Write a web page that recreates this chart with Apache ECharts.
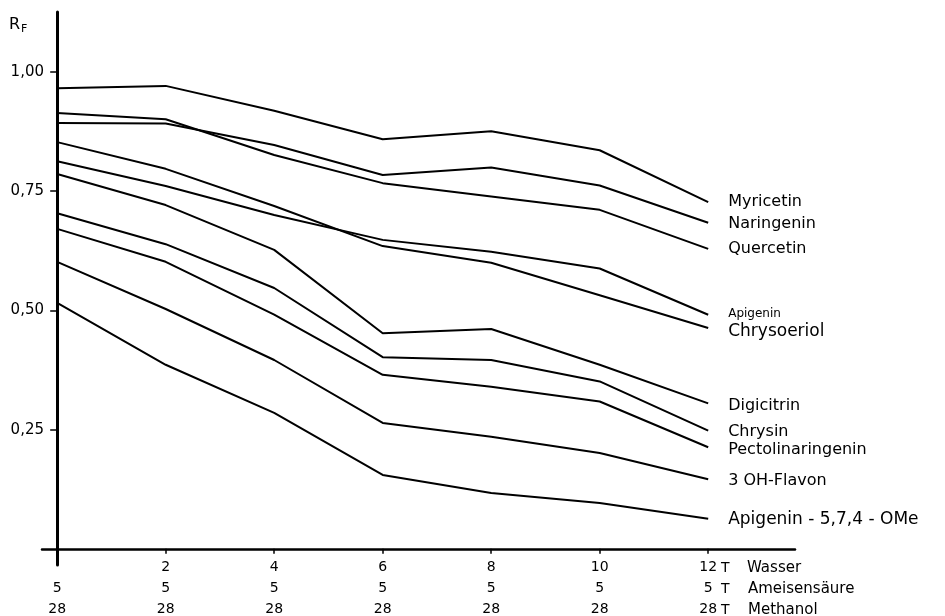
<!DOCTYPE html>
<html>
<head>
<meta charset="utf-8">
<script src="https://cdn.jsdelivr.net/npm/echarts@6/dist/echarts.min.js"></script>
<style>html,body{margin:0;padding:0;background:#fff}#c{width:945px;height:616px}</style>
</head>
<body>
<div id="c"></div>
<script>
// x positions (Wasser parts)
const xValues = [0, 2, 4, 6, 8, 10, 12];
const xTicks = [0, 2, 4, 6, 8, 10, 12];
const yTicks = [0.25, 0.5, 0.75, 1.0];
const row2Label = '5';
const row3Label = '28';
const axisTitles = ['Wasser', 'Ameisensäure', 'Methanol'];

const seriesNames = ['Myricetin', 'Naringenin', 'Quercetin', 'Apigenin', 'Chrysoeriol',
  'Digicitrin', 'Chrysin', 'Pectolinaringenin', '3 OH-Flavon', 'Apigenin - 5,7,4 - OMe'];

const myricetin        = [0.966, 0.971, 0.919, 0.859, 0.876, 0.836, 0.727];
const naringenin       = [0.893, 0.892, 0.847, 0.784, 0.800, 0.762, 0.684];
const quercetin        = [0.914, 0.901, 0.826, 0.767, 0.739, 0.711, 0.629];
const apigenin         = [0.813, 0.761, 0.700, 0.648, 0.623, 0.588, 0.491];
const chrysoeriol      = [0.853, 0.797, 0.719, 0.635, 0.600, 0.532, 0.463];
const digicitrin       = [0.786, 0.721, 0.627, 0.452, 0.461, 0.386, 0.305];
const chrysin          = [0.704, 0.639, 0.547, 0.402, 0.396, 0.351, 0.248];
const pectolinaringenin= [0.671, 0.602, 0.491, 0.365, 0.340, 0.309, 0.213];
const flavon3oh        = [0.602, 0.503, 0.396, 0.264, 0.235, 0.201, 0.146];
const apigeninOMe      = [0.516, 0.386, 0.285, 0.155, 0.117, 0.096, 0.063];

const allValues = [myricetin, naringenin, quercetin, apigenin, chrysoeriol,
  digicitrin, chrysin, pectolinaringenin, flavon3oh, apigeninOMe];

const FONT = 'DejaVu Sans';
const labelStyles = [
  {fs: 16, dy: 0, w: 'normal'}, {fs: 16, dy: 1, w: 'normal'}, {fs: 16, dy: 0, w: 'normal'},
  {fs: 12, dy: -1, w: 'normal'}, {fs: 17, dy: 4, w: 'normal'},
  {fs: 16, dy: 2, w: 'normal'}, {fs: 16, dy: 1, w: 'normal'}, {fs: 16, dy: 3, w: 'normal'},
  {fs: 16, dy: 2, w: 'normal'}, {fs: 17, dy: 1, w: 'normal'}
];

const chart = echarts.init(document.getElementById('c'), null, {renderer: 'canvas'});

const series = seriesNames.map((name, i) => ({
  name: name,
  type: 'line',
  data: xValues.map((x, j) => [x, allValues[i][j]]),
  showSymbol: false,
  symbol: 'none',
  lineStyle: {color: '#000', width: 2},
  itemStyle: {color: '#000'},
  endLabel: {
    show: true,
    formatter: '{a}',
    color: '#000',
    fontFamily: FONT,
    fontSize: labelStyles[i].fs,
    fontWeight: labelStyles[i].w,
    distance: 20,
    offset: [0, labelStyles[i].dy]
  },
  emphasis: {disabled: true}
}));

const option = {
  animation: false,
  backgroundColor: '#fff',
  title: {
    text: '{r|R}{f|F}',
    left: 9,
    top: 14,
    padding: 0,
    textStyle: {
      fontWeight: 'normal',
      rich: {
        r: {fontFamily: FONT, fontSize: 16, color: '#000', fontWeight: 'normal'},
        f: {fontFamily: FONT, fontSize: 11, color: '#000', fontWeight: 'normal', padding: [10, 0, 0, 1]}
      }
    }
  },
  grid: {left: 42, right: 150, top: 12, bottom: 51, containLabel: false, outerBoundsMode: 'none'},
  xAxis: {
    type: 'value',
    min: -0.28,
    max: 13.6,
    axisLine: {onZero: true, lineStyle: {color: '#000', width: 2.5}},
    axisTick: {show: true, customValues: xTicks, length: 5, lineStyle: {color: '#000', width: 1.5}},
    axisLabel: {
      customValues: xTicks,
      formatter: function (v) { return (v === 0 ? ' ' : String(v)) + '\n' + row2Label + '\n' + row3Label; },
      color: '#000',
      fontFamily: FONT,
      fontSize: 14,
      lineHeight: 21,
      margin: -8
    },
    splitLine: {show: false}
  },
  yAxis: {
    type: 'value',
    min: -0.034,
    max: 1.126,
    axisLine: {show: true, onZero: true, lineStyle: {color: '#000', width: 3}},
    axisTick: {show: true, customValues: yTicks, length: 7, lineStyle: {color: '#000', width: 1.5}},
    axisLabel: {
      customValues: yTicks,
      formatter: function (v) { return v.toFixed(2).replace('.', ','); },
      color: '#000',
      fontFamily: FONT,
      fontSize: 15,
      margin: -2
    },
    splitLine: {show: false}
  },
  graphic: [
    {type: 'text', x: 721, y: 568, style: {text: 'T', fill: '#000', fontFamily: FONT, fontSize: 14, verticalAlign: 'middle'}},
    {type: 'text', x: 721, y: 589, style: {text: 'T', fill: '#000', fontFamily: FONT, fontSize: 14, verticalAlign: 'middle'}},
    {type: 'text', x: 721, y: 610, style: {text: 'T', fill: '#000', fontFamily: FONT, fontSize: 14, verticalAlign: 'middle'}},
    {type: 'text', x: 747, y: 568, style: {text: axisTitles[0], fill: '#000', fontFamily: FONT, fontSize: 15, verticalAlign: 'middle'}},
    {type: 'text', x: 748, y: 589, style: {text: axisTitles[1], fill: '#000', fontFamily: FONT, fontSize: 15, verticalAlign: 'middle'}},
    {type: 'text', x: 748, y: 610, style: {text: axisTitles[2], fill: '#000', fontFamily: FONT, fontSize: 15, verticalAlign: 'middle'}}
  ],
  series: series
};

chart.setOption(option);
</script>
</body>
</html>
